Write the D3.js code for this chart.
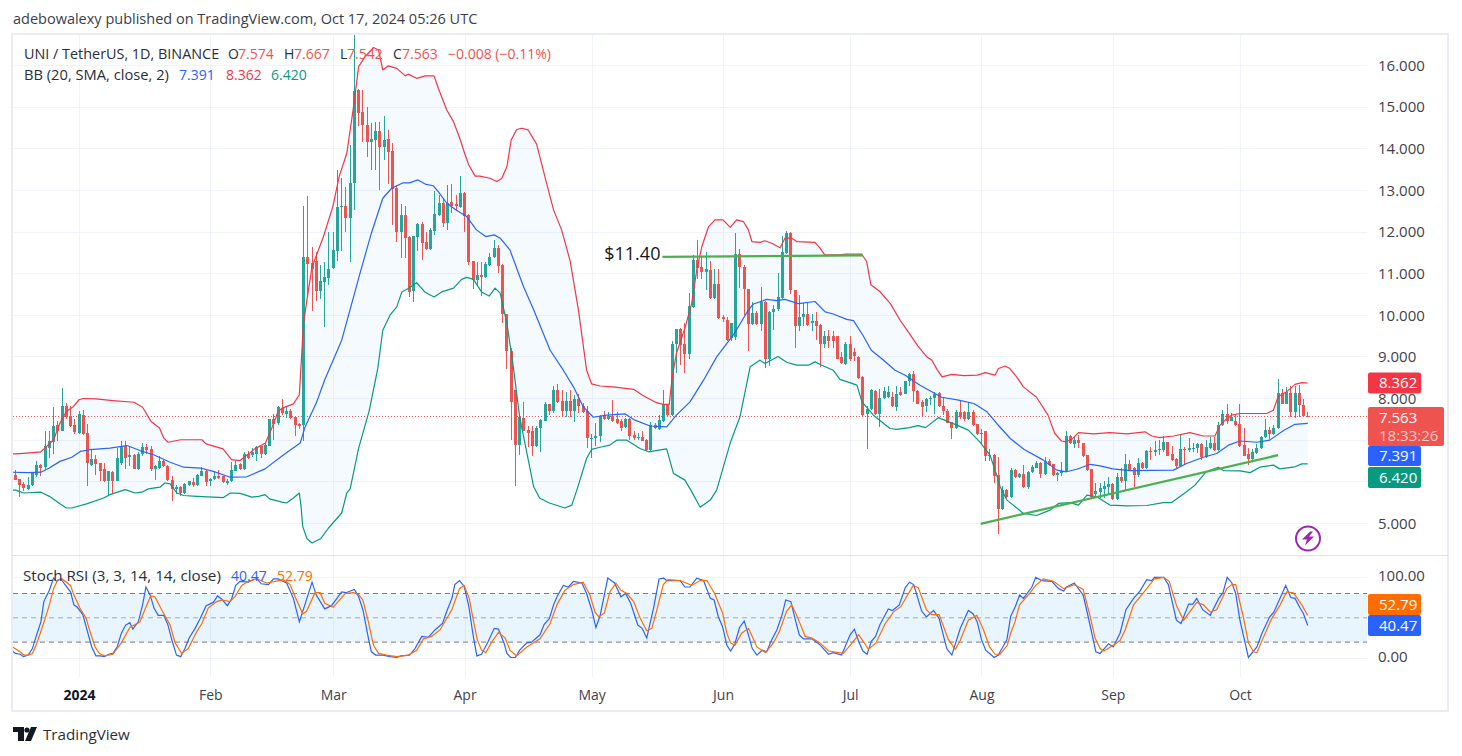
<!DOCTYPE html>
<html>
<head>
<meta charset="utf-8">
<title>UNI / TetherUS daily</title>
<script src="https://cdn.jsdelivr.net/npm/d3@7"></script>
<style>
  html, body { margin: 0; padding: 0; background: #fff; }
  svg { display: block; }
  text { font-family: "Open Sans", sans-serif; }
</style>
</head>
<body>
<svg id="chart" width="1462" height="756"></svg>
<script>
// Daily candles as [open, high, low, close], one list per calendar month.
const ohlcDec23 = [
  [6.16,6.28,6.04,6.04],[6.06,6.06,5.62,5.92],[5.94,5.98,5.76,5.84],[5.82,6.10,5.80,5.91],[5.92,6.20,5.90,6.20],
  [6.16,6.50,6.10,6.40],[6.40,6.42,6.12,6.33],[6.34,7.20,6.30,6.86],[6.80,7.20,6.55,6.98],[6.95,7.78,6.65,7.34],
  [7.36,7.45,6.98,7.22],[7.22,8.24,7.22,7.82],[7.80,7.88,7.50,7.55],[7.58,7.80,7.30,7.34],[7.36,7.50,7.14,7.18]
];
const ohlcJan24 = [
  [7.16,7.68,7.14,7.62],[7.60,7.72,7.12,7.14],[7.16,7.38,5.88,6.44],[6.40,6.76,6.38,6.54],[6.54,6.64,6.16,6.42],
  [6.44,6.44,6.02,6.26],[6.30,6.44,5.98,6.00],[6.00,6.26,5.68,6.24],[6.23,6.24,5.70,6.00],[6.00,6.80,6.00,6.56],
  [6.44,6.98,6.40,6.84],[6.86,6.98,6.30,6.56],[6.58,6.85,6.38,6.64],[6.64,6.66,6.30,6.30],[6.30,6.70,6.28,6.66],
  [6.65,6.92,6.62,6.82],[6.82,6.90,6.65,6.76],[6.78,6.85,6.24,6.30],[6.30,6.40,6.04,6.38],[6.32,6.60,6.30,6.48],
  [6.50,6.52,6.34,6.36],[6.38,6.40,6.02,6.04],[6.04,6.12,5.54,5.82],[5.82,5.92,5.70,5.86],[5.86,5.88,5.64,5.72],
  [5.72,5.96,5.70,5.94],[5.92,6.02,5.88,6.00],[5.99,6.08,5.86,5.92],[5.92,6.17,5.88,6.15],[6.14,6.34,6.12,6.26],
  [6.26,6.30,5.90,5.98]
];
const ohlcFeb24 = [
  [6.00,6.08,5.90,6.06],[6.06,6.24,6.04,6.14],[6.14,6.28,6.06,6.08],[6.12,6.14,5.96,5.98],[5.96,6.06,5.92,6.02],
  [6.00,6.46,5.98,6.28],[6.26,6.48,6.24,6.40],[6.41,6.44,6.28,6.30],[6.30,6.70,6.28,6.66],[6.66,6.74,6.54,6.56],
  [6.64,6.80,6.58,6.70],[6.66,6.85,6.48,6.83],[6.84,6.86,6.56,6.66],[6.66,6.92,6.64,6.88],[6.86,7.50,6.85,7.50],
  [7.50,7.62,7.00,7.38],[7.40,7.82,7.36,7.78],[7.76,7.98,7.60,7.64],[7.62,7.78,7.52,7.70],[7.70,7.74,7.50,7.52],
  [7.54,7.56,7.08,7.36],[7.38,7.40,7.26,7.34],[7.35,12.61,6.98,11.39],[11.39,12.85,10.40,11.22],[11.24,11.64,10.10,11.10],
  [11.30,11.50,10.34,10.58],[10.58,11.20,10.37,10.82],[10.80,11.28,9.70,10.90],[10.88,12.00,10.72,11.10]
];
const ohlcMar24 = [
  [11.12,12.00,11.10,11.56],[11.54,13.48,11.30,12.60],[12.58,13.28,11.54,12.62],[12.62,13.08,12.00,12.33],[12.33,14.08,11.28,13.16],
  [13.16,17.00,12.52,15.38],[15.40,15.42,14.53,14.84],[14.86,15.40,14.16,14.55],[14.56,14.98,13.80,14.16],[14.16,14.60,13.49,14.22],
  [14.20,14.64,13.49,14.42],[14.42,14.64,13.00,14.04],[14.04,14.77,13.72,14.20],[14.22,14.45,13.14,13.92],[13.93,14.12,12.16,13.02],
  [13.04,13.12,11.76,12.00],[12.00,12.66,11.36,12.40],[12.40,12.62,11.36,11.85],[11.87,11.90,10.43,10.55],[10.58,11.90,10.30,11.89],
  [11.88,12.20,11.54,12.18],[12.18,12.22,11.32,11.73],[11.76,12.00,11.56,11.58],[11.58,12.08,11.56,12.04],[12.02,12.97,11.92,12.42],
  [12.40,12.88,12.37,12.69],[12.69,12.80,12.10,12.21],[12.21,13.12,12.04,12.69],[12.72,13.14,12.44,12.62],[12.65,12.88,12.50,12.62],
  [12.60,13.33,12.56,12.92]
];
const ohlcApr24 = [
  [12.92,12.96,12.00,12.37],[12.40,12.42,11.20,11.28],[11.30,11.30,10.63,10.84],[10.84,11.28,10.70,10.96],[10.95,11.26,10.44,10.90],
  [10.90,11.28,10.88,11.22],[11.20,11.48,11.18,11.38],[11.38,11.80,11.36,11.60],[11.60,11.68,11.00,11.18],[11.20,11.22,9.80,10.02],
  [10.03,10.03,8.70,9.13],[9.13,9.20,7.00,7.90],[8.20,8.20,5.88,6.87],[6.87,7.60,6.63,7.55],[7.53,7.90,7.20,7.20],
  [7.23,7.33,6.83,7.17],[7.20,7.33,6.60,6.85],[6.85,7.33,6.82,7.28],[7.28,7.50,6.71,7.47],[7.46,7.90,7.44,7.86],
  [7.85,7.87,7.60,7.69],[7.69,8.30,7.65,8.20],[8.20,8.35,7.88,7.90],[7.92,8.20,7.55,7.69],[7.69,8.15,7.55,7.92],
  [7.92,8.20,7.54,7.69],[7.69,8.07,7.43,7.98],[7.98,8.10,7.63,7.80],[7.82,7.88,7.63,7.67],[7.69,7.80,6.79,7.03]
];
const ohlcMay24 = [
  [7.02,7.13,6.55,7.05],[7.03,7.40,6.86,7.10],[7.08,7.60,6.95,7.57],[7.57,7.70,7.47,7.49],[7.49,7.67,7.47,7.57],
  [7.57,7.95,7.43,7.46],[7.49,7.67,7.38,7.40],[7.46,7.50,7.20,7.29],[7.30,7.52,7.28,7.50],[7.50,7.52,7.00,7.09],
  [7.11,7.22,7.00,7.03],[7.03,7.15,7.00,7.07],[7.07,7.20,6.96,6.98],[7.00,7.02,6.72,6.75],[6.75,7.43,6.73,7.35],
  [7.35,7.40,7.26,7.28],[7.25,7.60,7.23,7.47],[7.46,8.20,7.42,7.85],[7.85,7.87,7.58,7.60],[7.60,9.36,7.58,9.30],
  [9.30,9.66,8.60,9.66],[9.66,9.68,8.80,9.27],[9.29,9.80,8.60,9.06],[9.06,10.53,8.94,10.21],[10.18,11.43,10.16,11.31],
  [11.31,11.80,10.87,11.13],[11.15,11.40,10.87,11.03],[11.03,11.50,10.60,11.10],[11.08,11.30,10.39,10.41],[10.40,11.10,10.37,10.74],
  [10.74,11.10,9.90,9.93]
];
const ohlcJun24 = [
  [9.94,10.00,9.83,9.90],[9.88,9.94,9.38,9.40],[9.44,9.80,9.38,9.80],[9.47,11.96,9.40,11.46],[11.46,11.57,10.64,11.14],
  [11.15,11.20,10.00,10.61],[10.61,10.62,9.14,9.78],[9.78,10.30,9.75,10.05],[10.05,10.10,9.76,9.78],[9.78,10.66,9.60,10.30],
  [10.30,10.32,8.73,8.94],[8.94,10.10,8.78,10.07],[10.07,10.24,9.63,10.15],[10.13,11.00,10.10,10.42],[10.40,11.90,10.38,11.52],
  [11.48,12.01,11.45,11.96],[11.96,11.98,10.50,10.60],[10.60,10.60,9.20,9.73],[9.73,10.48,9.62,9.94],[9.94,10.28,9.73,10.02],
  [10.02,10.30,9.73,9.75],[9.80,10.03,9.60,9.84],[9.84,10.07,9.40,9.74],[9.75,9.77,8.75,9.29],[9.29,9.60,9.20,9.49],
  [9.49,9.63,9.20,9.38],[9.49,9.62,9.20,9.38],[9.49,9.50,8.93,8.95],[8.98,9.10,8.82,8.84],[8.82,9.35,8.80,9.29]
];
const ohlcJul24 = [
  [9.29,9.50,8.90,8.93],[9.10,9.20,8.90,9.02],[8.99,9.00,8.47,8.49],[8.51,8.52,7.58,7.60],[7.62,7.80,6.77,7.75],
  [7.74,8.22,7.72,8.20],[8.17,8.20,7.60,7.62],[7.62,8.23,7.30,8.00],[8.00,8.27,7.98,8.17],[8.02,8.30,8.00,8.15],
  [8.03,8.15,7.78,7.80],[7.78,8.30,7.70,8.11],[8.14,8.27,8.05,8.07],[8.11,8.42,8.10,8.41],[8.40,8.60,8.30,8.58],
  [8.58,8.66,7.90,8.17],[8.17,8.20,7.85,7.87],[7.91,7.95,7.54,7.79],[7.81,8.00,7.67,7.98],[7.98,8.05,7.83,8.01],
  [8.00,8.15,7.62,8.11],[8.13,8.15,7.78,7.80],[7.81,8.02,7.60,7.70],[7.69,7.75,7.39,7.41],[7.42,7.43,7.02,7.27],
  [7.27,7.71,7.25,7.67],[7.67,7.94,7.50,7.55],[7.67,7.70,7.46,7.50],[7.50,7.90,7.47,7.67],[7.67,7.71,7.33,7.35],
  [7.37,7.38,7.12,7.14]
];
const ohlcAug24 = [
  [7.14,7.25,6.90,7.17],[7.20,7.20,6.50,6.60],[6.62,6.77,6.50,6.64],[6.64,6.65,5.97,6.13],[6.15,6.58,4.73,5.34],
  [5.34,5.90,5.32,5.80],[5.80,5.82,5.60,5.62],[5.62,6.31,5.60,6.27],[6.27,6.30,6.08,6.10],[6.10,6.20,6.08,6.17],
  [6.17,6.39,5.85,5.87],[5.87,6.25,5.82,6.23],[6.22,6.39,6.20,6.35],[6.33,6.49,6.31,6.45],[6.43,6.47,6.09,6.18],
  [6.18,6.59,6.16,6.49],[6.49,6.53,6.37,6.39],[6.41,6.42,6.12,6.15],[6.15,6.22,6.00,6.20],[6.20,6.47,6.12,6.24],
  [6.24,7.21,6.23,7.09],[7.09,7.12,6.89,6.91],[6.90,7.09,6.79,6.99],[6.99,7.11,6.80,6.91],[6.91,6.92,6.58,6.60],
  [6.63,6.64,6.25,6.27],[6.29,6.30,5.60,5.63],[5.70,5.95,5.60,5.77],[5.75,5.97,5.60,5.83],[5.81,6.02,5.59,5.88],
  [5.86,6.10,5.70,5.94]
];
const ohlcSep24 = [
  [5.94,5.97,5.56,5.58],[5.58,6.19,5.56,6.11],[6.11,6.31,5.95,6.01],[6.01,6.66,5.80,6.41],[6.41,6.51,6.24,6.26],
  [6.31,6.34,5.87,6.15],[6.15,6.55,6.10,6.43],[6.43,6.47,6.29,6.31],[6.31,6.76,6.29,6.74],[6.74,6.82,6.51,6.72],
  [6.70,6.97,6.60,6.75],[6.75,6.99,6.63,6.78],[6.76,7.09,6.70,6.94],[6.94,6.95,6.60,6.62],[6.65,6.85,6.49,6.51],
  [6.53,6.55,6.31,6.38],[6.38,7.14,6.35,6.77],[6.77,6.82,6.42,6.75],[6.75,7.03,6.70,6.79],[6.78,6.93,6.70,6.81],
  [6.80,6.93,6.69,6.90],[6.90,6.92,6.51,6.59],[6.59,7.00,6.57,6.82],[6.80,7.06,6.78,6.91],[6.91,7.06,6.73,6.75],
  [6.75,7.43,6.73,7.35],[7.35,7.72,7.33,7.61],[7.61,7.86,7.38,7.46],[7.46,7.65,7.44,7.55],[7.45,7.60,7.33,7.35]
];
const ohlcOct24 = [
  [7.38,7.86,6.83,6.85],[6.87,7.27,6.60,6.62],[6.65,6.79,6.40,6.54],[6.54,6.77,6.52,6.70],[6.68,6.90,6.66,6.81],
  [6.80,7.09,6.78,7.06],[7.06,7.49,7.05,7.23],[7.23,7.31,7.01,7.14],[7.14,7.35,7.12,7.27],[7.27,8.47,7.25,8.13],
  [8.13,8.23,7.85,7.87],[7.87,8.26,7.85,8.14],[8.13,8.28,7.55,7.66],[7.66,8.30,7.53,8.13],[8.13,8.31,7.55,7.83],
  [7.83,7.99,7.54,7.57],[7.574,7.667,7.542,7.563]
];

// Bollinger Bands as [days since 1 Jan 2024, price].
const upperBand = [[-16,6.66],[-15,6.66],[-12.3,6.68],[-9,6.71],[-7.6,6.84],[-6,7.00],[-4.5,7.40],[-3,7.68],[-1.3,7.80],[0,7.96],[1,7.99],[4,7.98],[8,7.94],[13,7.90],[15,7.78],[17,7.44],[19,7.28],[20,7.04],[21,6.94],[24,7.00],[29,7.00],[30,6.90],[34,6.78],[36,6.52],[38,6.50],[40,6.66],[41.5,6.78],[44,6.92],[45.5,7.28],[47,7.68],[48,7.76],[50.6,7.86],[52,8.08],[53,9.80],[54,10.50],[55,11.15],[57.7,11.88],[59.9,12.60],[61.4,13.32],[63.2,13.88],[64.8,15.00],[66,15.96],[67.5,16.20],[69.5,16.42],[70.7,16.36],[71.7,15.88],[73,15.98],[75,15.92],[77,15.74],[77.7,15.78],[79.7,15.68],[81.7,15.74],[83.8,15.74],[84.8,15.44],[86.8,14.92],[88.4,14.64],[90,14.20],[91,13.88],[92,13.60],[93.5,13.33],[94.6,13.33],[97,13.28],[98.6,13.20],[99.8,13.28],[101,13.56],[102,14.20],[103.3,14.45],[104.5,14.48],[106,14.44],[108,14.10],[110,13.30],[112,12.52],[113.9,12.04],[115.9,11.30],[117.9,10.10],[119.8,8.67],[121,8.34],[123,8.29],[126,8.27],[130.9,8.21],[133,8.07],[136.3,7.89],[137.9,7.85],[139.3,7.85],[140,8.50],[141,9.07],[143,9.68],[144.6,10.27],[145.8,11.08],[147,11.64],[148.6,12.12],[150.1,12.28],[152,12.28],[153.7,12.10],[155.2,12.28],[156.8,12.24],[158,12.04],[158.8,11.76],[160.7,11.74],[161.9,11.78],[163.5,11.72],[165.5,11.61],[166.6,11.84],[168.2,11.84],[169.4,11.76],[173.7,11.74],[174.9,11.60],[176,11.44],[179.6,11.44],[181,11.46],[184.7,11.46],[185.9,11.28],[186.9,10.72],[189,10.56],[191.5,10.27],[193.8,9.87],[196,9.55],[198,9.25],[200,9.00],[201.3,8.91],[202.5,8.69],[203.7,8.51],[206,8.57],[208.8,8.54],[212,8.55],[213.9,8.61],[216.2,8.55],[217,8.71],[218.6,8.77],[219.7,8.71],[221.3,8.51],[222.9,8.27],[226,8.02],[228.7,7.59],[230.3,7.15],[231.9,6.97],[233,6.95],[234.3,7.01],[235.9,7.17],[239.4,7.14],[243.3,7.17],[247.3,7.14],[251.6,7.19],[253.2,7.09],[255,7.05],[258.3,7.09],[262.2,7.17],[265.4,7.09],[268.1,7.09],[269.3,7.35],[270.5,7.47],[272,7.59],[274,7.63],[280.3,7.63],[281.9,7.71],[283,8.03],[285,8.15],[287,8.33],[288.6,8.37],[290,8.362]];
const basisLine = [[-16,6.22],[-12,6.21],[-9,6.22],[-7,6.32],[-4.5,6.48],[-1.7,6.58],[0.3,6.72],[2.6,6.76],[7.3,6.80],[11.3,6.86],[14.4,6.74],[17.6,6.64],[21.5,6.46],[24.7,6.34],[28.6,6.32],[31.7,6.24],[35.7,6.10],[39.6,6.11],[43.9,6.30],[48.3,6.64],[52.2,6.92],[53.4,7.32],[56,7.88],[58,8.44],[62,9.39],[66.3,10.99],[69,11.96],[71.7,12.80],[73.8,13.04],[76.5,13.17],[78,13.17],[80,13.24],[81.7,13.14],[83.6,13.10],[84.8,12.96],[86.8,12.68],[89,12.52],[91.5,12.36],[93.8,12.04],[96,11.88],[98,11.92],[99.4,11.84],[101.7,11.56],[104.9,10.68],[107.3,10.12],[111.2,9.15],[114.3,8.67],[116.7,8.27],[119,7.79],[121.4,7.54],[124.5,7.59],[128.9,7.62],[131.2,7.47],[134.8,7.33],[138.7,7.31],[141,7.59],[144.2,7.91],[147.4,8.43],[150.5,8.99],[154.4,9.51],[158,10.12],[159.2,10.26],[162.3,10.37],[164.7,10.34],[166.6,10.37],[169.8,10.27],[173.7,10.32],[176.1,10.07],[178,10.02],[181.2,9.89],[182.8,9.86],[185,9.51],[187,9.15],[189.9,8.91],[192.6,8.67],[195,8.55],[198.5,8.31],[203.6,8.02],[207.6,7.95],[211.2,7.87],[214.3,7.67],[216.6,7.39],[219.8,7.03],[223,6.77],[227.6,6.51],[230.8,6.27],[233,6.23],[235.5,6.29],[238.7,6.41],[241,6.37],[244,6.30],[248,6.26],[258.3,6.27],[261.4,6.43],[265.4,6.58],[268.5,6.67],[271.3,6.87],[274,6.97],[278,6.94],[281,6.99],[284.3,7.22],[287,7.37],[290,7.391]];
const lowerBand = [[-16,5.79],[-15,5.79],[-13,5.72],[-9,5.74],[-7,5.64],[-4.5,5.46],[-3,5.36],[-1.7,5.36],[1.8,5.46],[5.8,5.60],[7.3,5.68],[10.9,5.80],[13.2,5.72],[14.8,5.74],[16.4,5.82],[19.1,5.86],[20.3,5.96],[21.5,5.94],[23.1,5.72],[24.7,5.66],[27.8,5.64],[34.1,5.61],[35.7,5.72],[38,5.71],[40.8,5.62],[42.4,5.64],[43.9,5.68],[45,5.58],[47.9,5.50],[49,5.48],[50.6,5.60],[52,5.72],[52.4,5.40],[52.8,4.92],[53.8,4.62],[55,4.52],[57,4.62],[58.9,4.88],[62,5.24],[63.2,5.72],[64,5.82],[66,6.80],[68.5,7.70],[70.5,8.70],[71.7,9.63],[73.4,9.99],[75,10.19],[76.2,10.55],[77.8,10.64],[79.7,10.77],[81.7,10.54],[83.8,10.43],[85.6,10.55],[88.4,10.64],[90.3,10.85],[91.5,10.90],[93.1,10.85],[95,10.55],[96.8,10.45],[98.2,10.64],[99.4,10.52],[101,9.79],[102.5,8.75],[104,7.55],[107.3,5.87],[108.7,5.60],[111,5.48],[114.7,5.36],[116.3,5.43],[117.5,5.79],[119.8,6.55],[121,6.77],[123,6.82],[125.3,6.87],[126.9,6.99],[129.3,6.99],[132.4,6.79],[134.4,6.71],[138.7,6.78],[140.3,6.19],[141,6.15],[143,6.03],[144.4,5.79],[146.6,5.38],[149,5.55],[150.5,5.79],[153.7,6.92],[156,7.55],[158.4,8.75],[160.7,8.91],[161.9,8.83],[165,9.00],[167,8.86],[169.4,8.79],[172.2,8.79],[173.7,8.87],[175.3,8.79],[178,8.67],[179.6,8.45],[183.6,8.31],[184.8,7.91],[187.5,7.59],[191.4,7.27],[193,7.25],[196,7.29],[198,7.34],[199.8,7.29],[202.8,7.53],[207.2,7.35],[209.9,7.23],[212.6,6.95],[215,6.63],[216.6,6.15],[217.4,5.87],[219,5.55],[222.9,5.23],[226,5.18],[229.2,5.31],[231.2,5.47],[233.9,5.49],[235.9,5.43],[237.9,5.67],[240.2,5.63],[243.3,5.43],[247.3,5.41],[252,5.42],[255.9,5.49],[257.9,5.49],[261.4,5.75],[263.4,5.91],[266,6.23],[268.9,6.34],[270.1,6.26],[274,6.25],[276.4,6.21],[278.7,6.34],[281.9,6.39],[283.4,6.30],[287,6.35],[288.6,6.42],[290,6.42]];

// Stochastic RSI %K and %D as [days since 1 Jan 2024, value].
const stochK = [[-16,10],[-15,6],[-13.9,5],[-13.1,2],[-12,4],[-11,12],[-10,29],[-9,45],[-8.3,70],[-7,84],[-6,99],[-5.3,95],[-4.3,98],[-3.3,91],[-2,82],[-1.2,66],[-0.4,63],[0.9,54],[2,33],[3,14],[4,3],[5,3],[6,2],[7,5],[8,6],[9,14],[10,31],[11,41],[12,44],[12.7,36],[14,45],[15,66],[15.8,88],[16.8,78],[17.7,62],[18.7,53],[20,53],[21,41],[22,21],[23,4],[24,2],[25,12],[26,25],[27.4,37],[28.6,49],[30,65],[31.7,69],[32.7,77],[33.7,73],[35,65],[36,73],[37,90],[38,95],[40,94],[41,97],[42,98],[43,92],[44.7,91],[45.9,98],[47,98],[49,93],[50.6,74],[52,45],[53.3,66],[55,94],[56,78],[58,61],[59.6,65],[62,82],[63,81],[65,85],[66,76],[67,60],[68.3,25],[69,8],[70,4],[71.8,4],[73.4,2],[75,1],[76,3],[78,4],[79.3,12],[80.9,27],[82.5,26],[84,35],[85.8,43],[86.8,58],[88,74],[88.7,91],[89.8,96],[90.9,89],[92,64],[93,29],[93.9,3],[95,5],[96.6,21],[98,37],[99,36],[100.3,19],[101,6],[101.9,1],[103,1],[104,10],[105.7,19],[106.8,20],[108.8,29],[109.8,42],[111,49],[112,66],[112.9,77],[114.3,90],[115.5,88],[116.7,95],[118.7,93],[119.8,80],[121,60],[122,38],[123,53],[124.8,99],[126.4,93],[127.9,76],[129,80],[130.2,68],[131.9,41],[132.9,37],[134,25],[135.6,62],[136.9,98],[138,99],[138.7,96],[141.9,96],[143,88],[144.2,88],[145.8,99],[147.4,96],[149,74],[149.9,72],[150.9,51],[151.9,39],[152.9,16],[153.8,9],[154.8,18],[155.9,38],[157,46],[158,29],[158.9,12],[160,4],[161.2,10],[162.3,8],[163.5,23],[164.7,35],[165.9,53],[166.8,72],[168,70],[169,49],[170,29],[171,24],[173,24],[175,16],[176.9,5],[178,7],[180,4],[182,29],[183,36],[184,21],[185,9],[186,5],[187,21],[188,27],[189,41],[191,61],[192,59],[193.6,66],[195,87],[196,94],[197,91],[198.9,58],[200,51],[201.7,59],[203,49],[204.8,12],[206,4],[208,37],[209.9,59],[211,55],[212,45],[213,23],[214,10],[216,1],[217,4],[217.4,8],[219,23],[219.9,52],[221,64],[222,78],[222.9,74],[224.9,88],[225.8,100],[227.2,96],[229.6,95],[231.2,86],[232.4,83],[233.1,88],[234.9,93],[237,78],[238.2,51],[240,8],[241,6],[243,18],[244.1,14],[245.7,31],[247.1,60],[248.9,74],[250.4,83],[252,97],[253.2,96],[253.8,100],[256,100],[257.1,91],[259,47],[260.1,43],[261.9,67],[262.9,67],[263.8,74],[265.2,60],[267,53],[269,74],[270,81],[271,100],[272.1,93],[273,80],[274,47],[276,1],[278,14],[279.2,31],[281,51],[282,57],[284.8,90],[286,75],[287,74],[288.2,62],[289,55],[290,40.47]];
const stochD = [[-16,15],[-13.9,8],[-13,4],[-12,4],[-11,6],[-10,18],[-9,33],[-8,49],[-7,66],[-6,86],[-5,97],[-4,98],[-2,90],[-1.2,78],[0.2,62],[1.7,49],[2.6,33],[3.8,14],[4.8,6],[6,3],[8,5],[10,19],[12,38],[14.4,45],[15.7,62],[16.9,77],[17.9,76],[19.5,60],[21.5,41],[22.7,19],[24.2,6],[25.8,12],[27.8,33],[29,43],[30.5,62],[32.5,70],[33.7,72],[35.6,70],[36.8,76],[38.4,90],[40,95],[42,98],[44.3,93],[46.3,95],[48.2,97],[49.8,91],[51,76],[52.8,55],[53.7,58],[55.7,81],[56.9,81],[58,68],[60,63],[62.8,80],[64.8,81],[65.9,79],[67,72],[68.3,45],[69.5,16],[70.7,6],[72.6,4],[75,2],[77.7,4],[79.7,10],[81.3,24],[83.2,27],[85.2,35],[88,60],[89.8,86],[90.9,90],[92.1,74],[93,49],[94,23],[95,10],[96,7],[97.4,20],[99,32],[100.6,25],[101.7,10],[103.3,3],[105.7,14],[108.8,24],[111.2,43],[112.8,66],[114.7,84],[116.7,91],[119,94],[120.6,78],[121.8,57],[122.7,51],[124,56],[125.3,82],[126.7,93],[127.9,84],[129.3,80],[130.9,70],[132.5,49],[134,34],[135.2,37],[136.3,58],[137.9,91],[139,97],[141.9,96],[144.6,90],[146.6,96],[148.2,96],[150,80],[151.9,56],[152.9,31],[153.8,19],[154.8,16],[156.4,31],[158,37],[158.9,27],[160,14],[162,7],[163.9,19],[165.3,33],[167,58],[168.2,66],[169.4,53],[171.4,27],[173,25],[174.9,19],[176.9,9],[180.4,6],[182,16],[184,29],[185.1,21],[186.3,11],[188.1,19],[190.3,43],[192.2,57],[194,64],[196.9,90],[198.1,87],[200,60],[201.2,54],[203,54],[205.2,23],[206.8,11],[207.9,21],[209.9,47],[211.9,53],[213.5,35],[214.9,14],[216.2,5],[217.4,5],[219.1,16],[219.9,31],[220.9,45],[222,66],[224.5,81],[225.8,90],[227.6,98],[230,95],[232.4,86],[234.9,91],[237,85],[238.6,53],[239.8,25],[241,12],[241.9,9],[244.1,16],[245.7,22],[246.9,35],[248.9,66],[252,86],[253.8,98],[256,100],[257.3,95],[259.1,64],[260.7,47],[263.8,69],[265.4,66],[267,57],[268.5,60],[270.9,86],[272.1,91],[273,91],[274.8,51],[276,19],[277.2,8],[278,7],[280.3,35],[281.5,49],[283.5,66],[285,82],[286.6,81],[288.6,66],[290,52.79]];

// Two drawn trend lines as [days since 1 Jan 2024, price].
const resistanceLine = [[137.7,11.39],[185,11.43]];
const supportLine = [[212.8,4.98],[283,6.63]];

const priceGrid = [5,6,7,8,9,10,11,12,13,14,15,16];
const priceLabels = [5,8,9,10,11,12,13,14,15,16];
const stochTicks = [0,100];
const stochLevels = [20,50,80];
const monthLabels = ["2024","Feb","Mar","Apr","May","Jun","Jul","Aug","Sep","Oct"];
const monthDays = [0,31,60,91,121,152,182,213,244,274];

const lastClose = 7.563;
const lastBasis = 7.391;
const lastUpper = 8.362;
const lastLower = 6.420;
const lastK = 40.47;
const lastD = 52.79;

const colors = {
  up: "#26a69a", down: "#ef5350", upper: "#f23645", basis: "#2962ff", lower: "#089981",
  orange: "#ff6d00", grid: "#f0f3fa", frame: "#eaecf4", text: "#2a2e39", axis: "#3f424c",
  trend: "#4caf50"
};

const svg = d3.select("#chart");
const plot = { left: 13, right: 1367, top: 35, split: 555, bottom: 677, outerRight: 1448, outerBottom: 711 };

const dayMs = 864e5;
const epoch = Date.UTC(2024, 0, 1);
const dateOf = d => new Date(epoch + d * dayMs);

const x = d3.scaleUtc().domain([dateOf(-15.58), dateOf(303.99)]).range([plot.left, plot.right]);
const yPrice = d3.scaleLinear().domain([5, 16]).range([523, 65]);
const yStoch = d3.scaleLinear().domain([0, 100]).range([658.3, 577.3]);

const candles = [ohlcDec23, ohlcJan24, ohlcFeb24, ohlcMar24, ohlcApr24, ohlcMay24, ohlcJun24, ohlcJul24, ohlcAug24, ohlcSep24, ohlcOct24]
  .flat().map((r, i) => ({ day: i - 15, open: r[0], high: r[1], low: r[2], close: r[3] }));

const defs = svg.append("defs");
defs.append("clipPath").attr("id", "clipPrice").append("rect")
  .attr("x", plot.left).attr("y", plot.top).attr("width", plot.right - plot.left).attr("height", plot.split - plot.top);
defs.append("clipPath").attr("id", "clipStoch").append("rect")
  .attr("x", plot.left).attr("y", plot.split).attr("width", plot.right - plot.left).attr("height", plot.bottom - plot.split);

// Grid lines for both panes.
const grid = svg.append("g").attr("stroke", colors.grid).attr("stroke-width", 1).attr("shape-rendering", "crispEdges");
grid.selectAll(".v").data(monthDays).join("line")
  .attr("x1", d => Math.round(x(dateOf(d))) + .5).attr("x2", d => Math.round(x(dateOf(d))) + .5)
  .attr("y1", plot.top).attr("y2", plot.bottom);
grid.selectAll(".h").data(priceGrid).join("line")
  .attr("x1", plot.left).attr("x2", plot.right)
  .attr("y1", d => Math.round(yPrice(d)) + .5).attr("y2", d => Math.round(yPrice(d)) + .5);
grid.selectAll(".s").data(stochTicks).join("line")
  .attr("x1", plot.left).attr("x2", plot.right)
  .attr("y1", d => Math.round(yStoch(d))).attr("y2", d => Math.round(yStoch(d)));

// Price pane.
const pricePane = svg.append("g").attr("clip-path", "url(#clipPrice)");
const linePrice = d3.line().x(d => x(dateOf(d[0]))).y(d => yPrice(d[1]));
pricePane.append("path")
  .attr("d", linePrice(upperBand.concat(lowerBand.slice().reverse())) + "Z")
  .attr("fill", "#2196f3").attr("fill-opacity", .05);
const closeY = Math.round(yPrice(lastClose)) + .5;
pricePane.append("line")
  .attr("x1", plot.left).attr("x2", plot.right)
  .attr("y1", closeY).attr("y2", closeY)
  .attr("stroke", colors.down).attr("stroke-width", 1).attr("stroke-dasharray", "1 2");

const marks = pricePane.append("g").attr("shape-rendering", "crispEdges");
const colorOf = d => d.close >= d.open ? colors.up : colors.down;
const leftOf = d => Math.round(x(dateOf(d.day)) - 1.5);
marks.selectAll("rect.wick").data(candles).join("rect").attr("class", "wick")
  .attr("x", d => leftOf(d) + 1).attr("width", 1)
  .attr("y", d => yPrice(d.high)).attr("height", d => yPrice(d.low) - yPrice(d.high))
  .attr("fill", colorOf);
marks.selectAll("rect.body").data(candles).join("rect").attr("class", "body")
  .attr("x", leftOf).attr("width", 3)
  .attr("y", d => yPrice(Math.max(d.open, d.close)))
  .attr("height", d => Math.max(1, Math.abs(yPrice(d.open) - yPrice(d.close))))
  .attr("fill", colorOf);

[[upperBand, colors.upper], [basisLine, colors.basis], [lowerBand, colors.lower]].forEach(([data, color]) => {
  pricePane.append("path").attr("d", linePrice(data)).attr("fill", "none")
    .attr("stroke", color).attr("stroke-width", 1.2).attr("stroke-linejoin", "round");
});
[resistanceLine, supportLine].forEach(data => {
  pricePane.append("path").attr("d", linePrice(data)).attr("fill", "none")
    .attr("stroke", colors.trend).attr("stroke-width", 2.2);
});
pricePane.append("text").attr("x", x(dateOf(resistanceLine[0][0])) - 2).attr("y", yPrice(resistanceLine[0][1]) + 3)
  .attr("text-anchor", "end").attr("font-size", 18).attr("fill", "#131722").text("$11.40");

// Stochastic RSI pane.
const stochPane = svg.append("g").attr("clip-path", "url(#clipStoch)");
const lineStoch = d3.line().x(d => x(dateOf(d[0]))).y(d => yStoch(d[1]));
stochPane.append("rect")
  .attr("x", plot.left).attr("width", plot.right - plot.left)
  .attr("y", yStoch(80)).attr("height", yStoch(20) - yStoch(80))
  .attr("fill", "#2196f3").attr("fill-opacity", .1);
stochPane.selectAll("line.level").data(stochLevels).join("line").attr("class", "level")
  .attr("x1", plot.left).attr("x2", plot.right)
  .attr("y1", d => yStoch(d)).attr("y2", d => yStoch(d))
  .attr("stroke", "#787b86").attr("stroke-dasharray", "5 4").attr("stroke-width", 1)
  .attr("stroke-opacity", d => d === 50 ? .6 : 1);
stochPane.append("path").attr("d", lineStoch(stochK)).attr("fill", "none").attr("stroke", colors.basis).attr("stroke-width", 1.2);
stochPane.append("path").attr("d", lineStoch(stochD)).attr("fill", "none").attr("stroke", colors.orange).attr("stroke-width", 1.2);

// Frame and pane divider.
const frame = svg.append("g").attr("stroke", colors.frame).attr("fill", "none").attr("shape-rendering", "crispEdges");
frame.append("rect").attr("x", 12).attr("y", 34).attr("width", plot.outerRight - 12).attr("height", plot.outerBottom - 34).attr("stroke-width", 2);
frame.append("line").attr("x1", 12).attr("x2", plot.outerRight).attr("y1", plot.split + .5).attr("y2", plot.split + .5).attr("stroke", "#e0e3eb");

// Axes.
const axisStyle = g => {
  g.select(".domain").remove();
  g.selectAll(".tick line").remove();
  g.selectAll("text").attr("fill", colors.axis).attr("font-size", 15).attr("font-family", '"Open Sans", sans-serif');
};
svg.append("g").attr("transform", `translate(1378,0.5)`)
  .call(d3.axisRight(yPrice).tickValues(priceLabels).tickFormat(d3.format(".3f")).tickSize(0).tickPadding(0))
  .call(axisStyle);
svg.append("g").attr("transform", `translate(1378,-1.2)`)
  .call(d3.axisRight(yStoch).tickValues(stochTicks).tickFormat(d3.format(".2f")).tickSize(0).tickPadding(0))
  .call(axisStyle);
const axisX = svg.append("g").attr("transform", `translate(0,692)`)
  .call(d3.axisBottom(x).tickValues(monthDays.map(dateOf)).tickFormat((d, i) => monthLabels[i]).tickSize(0).tickPadding(0))
  .call(axisStyle);
axisX.selectAll("text").attr("font-size", 14).attr("dy", "0.6em")
  .attr("font-weight", (d, i) => i === 0 ? 700 : 400)
  .attr("fill", (d, i) => i === 0 ? "#131722" : colors.axis);

// Value tags on the right of each pane.
function tag(yCenter, height, width, fill, lines) {
  const g = svg.append("g");
  g.append("rect").attr("x", 1368).attr("y", yCenter - height / 2).attr("width", width).attr("height", height).attr("rx", 2).attr("fill", fill);
  lines.forEach(l => g.append("text").attr("x", 1379).attr("y", l.y).attr("font-size", 15)
    .attr("fill", "#fff").attr("fill-opacity", l.opacity || 1).text(l.text));
}
tag(yPrice(lastUpper), 21, 53, colors.upper, [{ y: yPrice(lastUpper) + 5, text: d3.format(".3f")(lastUpper) }]);
tag(426.5, 39, 76, colors.down, [
  { y: 423, text: d3.format(".3f")(lastClose) },
  { y: 441, text: "18:33:26", opacity: .7 }
]);
tag(456, 20, 53, colors.basis, [{ y: 461, text: d3.format(".3f")(lastBasis) }]);
tag(477.5, 21, 53, colors.lower, [{ y: 483, text: d3.format(".3f")(lastLower) }]);
tag(604.5, 21, 53, colors.orange, [{ y: 610, text: d3.format(".2f")(lastD) }]);
tag(625.5, 21, 53, colors.basis, [{ y: 631, text: d3.format(".2f")(lastK) }]);

// Text legends: each part is [x, text, colour, font size].
function legend(y, parts) {
  const t = svg.append("g");
  parts.forEach(p => t.append("text").attr("x", p[0]).attr("y", y).attr("fill", p[2]).attr("font-size", p[3]).text(p[1]));
}
svg.append("text").attr("x", 13).attr("y", 24).attr("font-size", 14.5).attr("fill", "#3a3e4a")
  .text("adebowalexy published on TradingView.com, Oct 17, 2024 05:26 UTC");
legend(59, [
  [24, "UNI / TetherUS, 1D, BINANCE", colors.text, 14.4],
  [228, "O", colors.text, 14], [238, "7.574", colors.down, 14],
  [284, "H", colors.text, 14], [294, "7.667", colors.down, 14],
  [340, "L", colors.text, 14], [347, "7.542", colors.down, 14],
  [393, "C", colors.text, 14], [402, "7.563", colors.down, 14],
  [448, "−0.008 (−0.11%)", colors.down, 14]
]);
legend(80, [
  [24, "BB (20, SMA, close, 2)", colors.text, 14.7],
  [179, d3.format(".3f")(lastBasis), colors.basis, 14],
  [226, d3.format(".3f")(lastUpper), colors.upper, 14],
  [271, d3.format(".3f")(lastLower), colors.lower, 14]
]);
legend(581, [
  [23, "Stoch RSI (3, 3, 14, 14, close)", colors.text, 15.2],
  [231, d3.format(".2f")(lastK), colors.basis, 14],
  [277, d3.format(".2f")(lastD), colors.orange, 14]
]);

// Lightning badge in the lower right of the price pane.
const badge = svg.append("g").attr("transform", "translate(1308,538.5)");
badge.append("circle").attr("r", 12).attr("fill", "#fff").attr("stroke", "#9c27b0").attr("stroke-width", 2);
badge.append("path").attr("d", "M2,-7 L-6,1 L-1,1 L-3,7 L6,-2 L1,-2 L5,-7 Z").attr("fill", "#9c27b0");

// Brand mark at the bottom.
const brand = svg.append("g").attr("transform", "translate(13,727)").attr("fill", "#131722");
brand.append("path").attr("d", "M0,0 H11 V14 H5 V5 H0 Z");
brand.append("circle").attr("cx", 14).attr("cy", 3).attr("r", 2.6);
brand.append("path").attr("d", "M18,0 H24 L18,14 H12 Z");
svg.append("text").attr("x", 43).attr("y", 740).attr("font-size", 15.2).attr("fill", "#2a2e39").text("TradingView");
</script>
</body>
</html>
